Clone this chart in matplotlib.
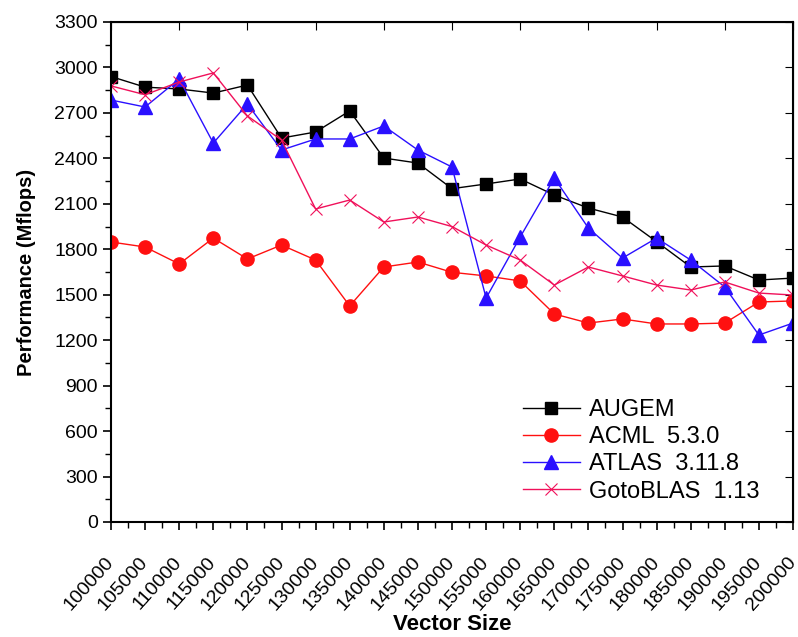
import matplotlib.pyplot as plt
import numpy as np

plt.rcParams['font.family'] = ['Liberation Sans', 'DejaVu Sans']

# Vector sizes
sizes = list(range(100000, 200001, 5000))

# Performance (Mflops)
augem = [2940, 2870, 2858, 2831, 2884, 2534, 2574, 2713, 2402, 2369, 2200,
         2231, 2264, 2158, 2072, 2013, 1850, 1683, 1690, 1597, 1610]
acml = [1848, 1815, 1703, 1874, 1736, 1828, 1729, 1426, 1683, 1716, 1648,
        1624, 1591, 1373, 1313, 1340, 1307, 1307, 1313, 1452, 1459]
atlas = [2785, 2739, 2924, 2501, 2759, 2455, 2528, 2528, 2614, 2455, 2343,
         1478, 1881, 2270, 1940, 1742, 1874, 1729, 1551, 1234, 1313]
goto = [2878, 2820, 2904, 2964, 2680, 2521, 2066, 2125, 1980, 2013, 1950,
        1828, 1729, 1564, 1683, 1624, 1564, 1531, 1584, 1511, 1498]

fig = plt.figure(figsize=(7.98, 6.37), dpi=100)
ax = fig.add_axes([111 / 798, 1 - 522 / 637, (793 - 111) / 798, 500 / 637])

ax.plot(sizes, augem, color='black', marker='s', markersize=8.5, lw=1, label='AUGEM')
ax.plot(sizes, acml, color='#ff1010', marker='o', markersize=9.5, lw=1, label='ACML  5.3.0')
ax.plot(sizes, atlas, color='#2a10ff', marker='^', markersize=9.5, lw=1, label='ATLAS  3.11.8')
ax.plot(sizes, goto, color='#f0105a', marker='x', markersize=9, mew=0.8, lw=1,
        label='GotoBLAS  1.13')

ax.set_xlim(100000, 200000)
ax.set_ylim(0, 3300)
ax.set_xticks(sizes)
ax.set_xticklabels([str(s) for s in sizes], rotation=48, ha='right', va='center',
                   rotation_mode='anchor', fontsize=14)
ax.set_xticks(np.arange(102500, 200000, 5000), minor=True)
ax.set_yticks(range(0, 3301, 300))
ax.set_yticks(range(150, 3300, 300), minor=True)
ax.tick_params(axis='y', labelsize=14)
ax.tick_params(which='major', length=6, width=1.2, direction='out')
ax.tick_params(which='minor', length=4, width=1, direction='out')
ax.tick_params(axis='x', which='major', pad=21)

# inward ticks on top and right spines
sec_x = ax.secondary_xaxis('top')
sec_x.set_xticks(range(100000, 200001, 10000))
sec_x.tick_params(direction='in', length=6, labeltop=False)
sec_y = ax.secondary_yaxis('right')
sec_y.set_yticks(range(0, 3301, 300))
sec_y.tick_params(direction='in', length=6, labelright=False)

for sp in ax.spines.values():
    sp.set_linewidth(1.5)

ax.set_xlabel('Vector Size', fontsize=16, fontweight='bold', labelpad=0)
ax.set_ylabel('Performance (Mflops)', fontsize=14.5, fontweight='bold', labelpad=13)

ax.legend(loc='lower right', frameon=False, fontsize=17, handlelength=2.4,
          handletextpad=0.4, labelspacing=0.22, borderaxespad=0,
          bbox_to_anchor=(0.965, 0.02))

fig.savefig('out.png', dpi=100)
